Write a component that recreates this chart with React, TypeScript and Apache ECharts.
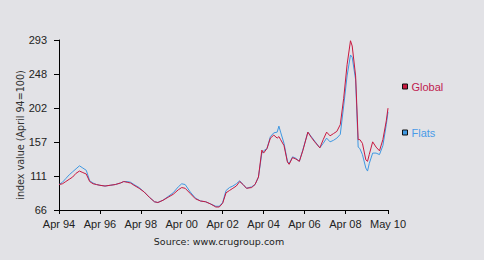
import React, { useEffect, useRef } from "react";
import * as echarts from "echarts";

// months since Apr 1994
const months = [0,2,4,6,8,10,12,14,16,18,20,22,24,27,30,33,36,38,40,42,44,47,50,53,56,58,61,64,67,70,72,74,77,80,83,86,89,92,94,96,98,100,102,104,106,108,110,113,115,117,119,120,122,124,126,128,129,130,132,134,135,137,139,141,143,146,148,150,153,155,157,159,161,163,165,167,169,171,172,174,175.5,176.5,178,180,181,182,184,186,188,190,192,193];
const globalValues = [100,101,104,107,110,115,118,116,114,104,101,100,99,98,99,100,102,104,103,102,99,95,90,83,77,76,79,83,87,93,96,95,88,81,78,77,74,70,70,75,89,92,95,98,104,100,95,96,100,110,146,142,148,162,166,162,164,160,152,130,127,136,134,131,145,170,163,157,149,160,170,165,168,171,180,215,260,292,285,245,160,160,155,133,131,140,157,150,145,160,185,202];
const flatsValues = [100,103,108,113,117,121,125,122,119,105,102,100,99,98,99,100,102,104,104,103,100,96,90,83,77,76,79,84,89,97,101,100,90,82,78,77,74,71,71,76,92,96,98,101,105,100,95,97,100,110,142,145,148,164,169,170,178,170,155,131,128,137,135,131,146,170,164,158,149,155,162,157,159,162,167,205,245,273,270,240,150,148,140,122,118,128,142,142,140,152,180,197];

const xTickMonths = [0,24,48,72,96,120,144,168,193];
const xTickLabels = ["Apr 94","Apr 96","Apr 98","Apr 00","Apr 02","Apr 04","Apr 06","Apr 08","May 10"];
const yTicks = [66,111.4,156.8,202.2,247.6,293];

const GLOBAL_COLOR = "#c8183f";
const FLATS_COLOR = "#3f98e2";
const GLOBAL_TEXT = "#c0204f";
const FLATS_TEXT = "#4a9be8";

export default function App() {
  const ref = useRef<HTMLDivElement>(null);
  useEffect(() => {
    if (!ref.current) return;
    const chart = echarts.init(ref.current, null, { renderer: "svg" });
    const font = "'Liberation Sans', Arial, sans-serif";
    const wide = "'DejaVu Sans', sans-serif";
    chart.setOption({
      animation: false,
      backgroundColor: "#e2e2e6",
      textStyle: { fontFamily: font },
      grid: { left: 59, right: 96, top: 40, bottom: 50, containLabel: false },
      xAxis: {
        type: "value",
        min: 0,
        max: 193,
        splitLine: { show: false },
        axisLine: { lineStyle: { color: "#000", width: 1 } },
        axisTick: { show: true, length: 4, customValues: xTickMonths, lineStyle: { color: "#000" } },
        axisLabel: {
          customValues: xTickMonths,
          color: "#222",
          fontSize: 11,
          fontFamily: font,
          margin: 8,
          formatter: (v: number) => {
            const i = xTickMonths.indexOf(v);
            return i >= 0 ? xTickLabels[i] : "";
          },
        },
      },
      yAxis: {
        type: "value",
        min: 66,
        max: 293,
        splitLine: { show: false },
        axisLine: { show: true, lineStyle: { color: "#000", width: 1 } },
        axisTick: { show: true, length: 5, customValues: yTicks, lineStyle: { color: "#000" } },
        axisLabel: {
          customValues: yTicks,
          color: "#222",
          fontSize: 11,
          fontFamily: font,
          margin: 12,
          formatter: (v: number) => String(Math.round(v)),
        },
      },
      legend: {
        orient: "vertical",
        left: 402,
        top: 81,
        padding: 0,
        itemGap: 35,
        itemWidth: 5,
        itemHeight: 5,
        icon: "rect",
        textStyle: { fontSize: 11, fontFamily: font, padding: [0, 0, 0, -1] },
        data: [
          { name: "Global", textStyle: { color: GLOBAL_TEXT }, itemStyle: { color: GLOBAL_COLOR, borderColor: "#111", borderWidth: 1 } },
          { name: "Flats", textStyle: { color: FLATS_TEXT }, itemStyle: { color: FLATS_COLOR, borderColor: "#111", borderWidth: 1 } },
        ],
      },
      graphic: [
        {
          type: "text",
          x: 20,
          y: 135,
          rotation: Math.PI / 2,
          style: {
            text: "index value (April 94=100)",
            fill: "#333",
            fontSize: 9.6,
            fontFamily: wide,
            align: "center",
            verticalAlign: "middle",
          },
        },
        {
          type: "text",
          x: 219,
          y: 241,
          style: {
            text: "Source: www.crugroup.com",
            fill: "#222",
            fontSize: 9.5,
            fontFamily: wide,
            align: "center",
            verticalAlign: "middle",
          },
        },
      ],
      series: [
        {
          name: "Flats",
          type: "line",
          showSymbol: false,
          lineStyle: { color: FLATS_COLOR, width: 1 },
          itemStyle: { color: FLATS_COLOR },
          data: months.map((m, i) => [m, flatsValues[i]]),
        },
        {
          name: "Global",
          type: "line",
          showSymbol: false,
          lineStyle: { color: GLOBAL_COLOR, width: 1 },
          itemStyle: { color: GLOBAL_COLOR },
          data: months.map((m, i) => [m, globalValues[i]]),
        },
      ],
    });
    return () => chart.dispose();
  }, []);
  return <div ref={ref} style={{ position: "fixed", left: 0, top: 0, width: 484, height: 260 }} />;
}
